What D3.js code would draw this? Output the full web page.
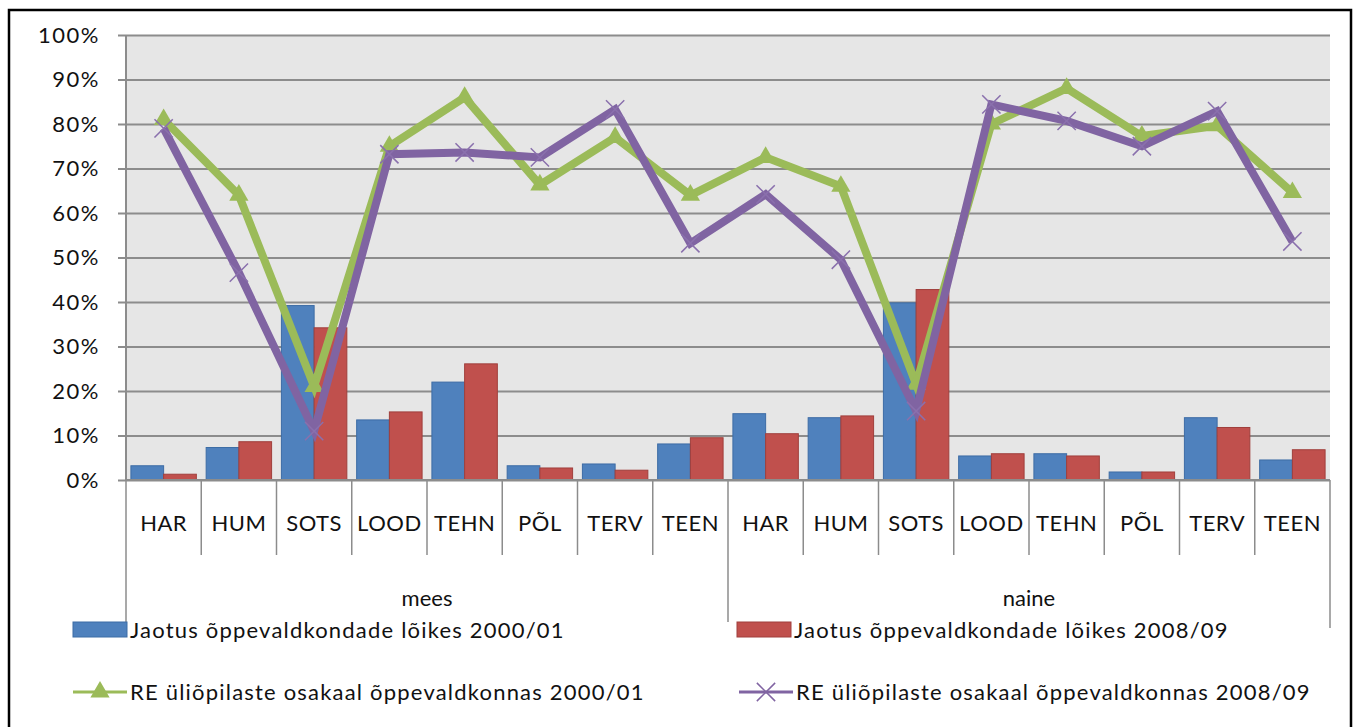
<!DOCTYPE html>
<html>
<head>
<meta charset="utf-8">
<script src="https://cdn.jsdelivr.net/npm/d3@7"></script>
<style>
  body { margin: 0; background: #fff; }
  svg { display: block; font-family: Lato, "Open Sans", sans-serif; }
</style>
</head>
<body>
<script>
const groups = ["mees", "naine"];
const fields = ["HAR", "HUM", "SOTS", "LOOD", "TEHN", "PÕL", "TERV", "TEEN"];
const yTicks = [0, 0.1, 0.2, 0.3, 0.4, 0.5, 0.6, 0.7, 0.8, 0.9, 1];

// percentages, mees first then naine
const jaotus2000 = [3.2, 7.3, 39.2, 13.5, 22.0, 3.2, 3.6, 8.1, 14.9, 14.0, 39.8, 5.4, 5.9, 1.8, 14.0, 4.5];
const jaotus2008 = [1.3, 8.6, 34.2, 15.3, 26.1, 2.7, 2.2, 9.5, 10.4, 14.4, 42.8, 5.9, 5.4, 1.8, 11.8, 6.8];
const re2000 = [81, 64, 21, 75, 86, 66.3, 77, 64, 72.5, 66, 21.5, 80, 88, 77.3, 79.6, 64.6];
const re2008 = [79, 46.6, 11, 73.2, 73.6, 72.5, 83.3, 53.2, 64.2, 49.5, 15.5, 84.4, 80.7, 75, 82.9, 53.6];

const legendNames = [
  "Jaotus õppevaldkondade lõikes 2000/01",
  "Jaotus õppevaldkondade lõikes 2008/09",
  "RE üliõpilaste osakaal õppevaldkonnas 2000/01",
  "RE üliõpilaste osakaal õppevaldkonnas 2008/09"
];

const width = 1356, height = 727;
const plot = {left: 126, right: 1330, top: 35, bottom: 480};

const cats = [];
groups.forEach(g => fields.forEach(f => cats.push({group: g, field: f})));
const idx = d3.range(cats.length);

const svg = d3.select("body").append("svg")
  .attr("width", width)
  .attr("height", height);

// outer frame
svg.append("rect")
  .attr("x", 9).attr("y", 10)
  .attr("width", 1342).attr("height", 740)
  .attr("fill", "none").attr("stroke", "#000").attr("stroke-width", 2.5);

const x = d3.scaleBand().domain(idx).range([plot.left, plot.right]);
const xSub = d3.scaleBand().domain([0, 1]).range([0, x.bandwidth()]).paddingOuter(0.15);
const y = d3.scaleLinear().domain([0, 1]).range([plot.bottom, plot.top]);

svg.append("rect")
  .attr("x", plot.left).attr("y", plot.top)
  .attr("width", plot.right - plot.left).attr("height", plot.bottom - plot.top)
  .attr("fill", "#e6e6e6");

// grid + y axis
const yAxis = d3.axisLeft(y)
  .tickValues(yTicks)
  .tickFormat(d3.format(".0%"))
  .tickSize(-(plot.right - plot.left) - 8)
  .tickPadding(18);

const gy = svg.append("g")
  .attr("transform", `translate(${plot.left - 8},0)`)
  .call(yAxis);
gy.select(".domain").remove();
gy.selectAll(".tick line")
  .attr("x1", 0)
  .attr("x2", plot.right - plot.left + 8)
  .attr("stroke", "#8c8c8c").attr("stroke-width", 2);
gy.selectAll(".tick text")
  .attr("font-size", 22).attr("fill", "#111")
  .attr("letter-spacing", 1.5)
  .style("font-family", "Lato, sans-serif");

svg.append("line")
  .attr("x1", plot.left).attr("x2", plot.left)
  .attr("y1", plot.top).attr("y2", plot.bottom)
  .attr("stroke", "#8c8c8c").attr("stroke-width", 2);

// bars
const barData = [jaotus2000, jaotus2008];
const barFill = ["#4f81bd", "#c0504d"];
const barStroke = ["#3d6ca5", "#a03f3c"];

barData.forEach((series, s) => {
  svg.append("g").selectAll("rect")
    .data(series)
    .join("rect")
    .attr("x", (d, i) => x(i) + xSub(s))
    .attr("y", d => y(d / 100))
    .attr("width", xSub.bandwidth())
    .attr("height", d => plot.bottom - y(d / 100))
    .attr("fill", barFill[s])
    .attr("stroke", barStroke[s])
    .attr("stroke-width", 1);
});

// lines
const cx = i => x(i) + x.bandwidth() / 2;
const line = d3.line().x((d, i) => cx(i)).y(d => y(d / 100));

const tri = d3.symbol().type(d3.symbolTriangle).size(160);

svg.append("path")
  .datum(re2000)
  .attr("d", line)
  .attr("fill", "none")
  .attr("stroke", "#9bbb59")
  .attr("stroke-width", 8);

svg.append("g").selectAll("path")
  .data(re2000)
  .join("path")
  .attr("d", tri)
  .attr("transform", (d, i) => `translate(${cx(i)},${y(d / 100)})`)
  .attr("fill", "#9bbb59");

svg.append("path")
  .datum(re2008)
  .attr("d", line)
  .attr("fill", "none")
  .attr("stroke", "#8064a2")
  .attr("stroke-width", 8);

const cross = d3.symbol().type(d3.symbolX).size(220);
svg.append("g").selectAll("path")
  .data(re2008)
  .join("path")
  .attr("d", cross)
  .attr("transform", (d, i) => `translate(${cx(i)},${y(d / 100)})`)
  .attr("fill", "none")
  .attr("stroke", "#8a70ad")
  .attr("stroke-width", 1.5);

// x axis
svg.append("line")
  .attr("x1", plot.left).attr("x2", plot.right)
  .attr("y1", plot.bottom).attr("y2", plot.bottom)
  .attr("stroke", "#8c8c8c").attr("stroke-width", 2);

const bounds = d3.range(cats.length + 1);
svg.append("g").selectAll("line")
  .data(bounds)
  .join("line")
  .attr("x1", i => i < cats.length ? x(i) : plot.right)
  .attr("x2", i => i < cats.length ? x(i) : plot.right)
  .attr("y1", plot.bottom)
  .attr("y2", i => i % fields.length === 0 ? (i === cats.length ? 628 : 622) : 555)
  .attr("stroke", "#8c8c8c").attr("stroke-width", 1.5);

svg.append("g").selectAll("text")
  .data(cats)
  .join("text")
  .attr("x", (d, i) => cx(i))
  .attr("y", 531)
  .attr("text-anchor", "middle")
  .attr("font-size", 22)
  .attr("letter-spacing", 0.5)
  .attr("fill", "#111")
  .text(d => d.field);

svg.append("g").selectAll("text")
  .data(groups)
  .join("text")
  .attr("x", (d, g) => (x(g * fields.length) + (g === groups.length - 1 ? plot.right : x((g + 1) * fields.length))) / 2)
  .attr("y", 606)
  .attr("text-anchor", "middle")
  .attr("font-size", 22)
  .attr("fill", "#111")
  .text(d => d);

// legend
const legend = svg.append("g");
const legendPos = [[73, 630], [737, 630], [73, 692], [739, 692]];

legendPos.forEach(([lx, ly], k) => {
  const g = legend.append("g").attr("transform", `translate(${lx},${ly})`);
  if (k < 2) {
    g.append("rect")
      .attr("x", 0).attr("y", -8).attr("width", 54).attr("height", 15)
      .attr("fill", barFill[k]).attr("stroke", barStroke[k]);
  } else {
    const col = k === 2 ? "#9bbb59" : "#8064a2";
    g.append("line")
      .attr("x1", 0).attr("x2", 54).attr("y1", 0).attr("y2", 0)
      .attr("stroke", col).attr("stroke-width", 3);
    g.append("path")
      .attr("d", k === 2 ? tri() : cross())
      .attr("transform", "translate(27,0)")
      .attr("fill", k === 2 ? col : "none")
      .attr("stroke", k === 2 ? "none" : col)
      .attr("stroke-width", 1.5);
  }
  g.append("text")
    .attr("x", 57).attr("y", 8)
    .attr("font-size", 22)
    .attr("letter-spacing", 1.2)
    .attr("fill", "#111")
    .text(legendNames[k]);
});
</script>
</body>
</html>
